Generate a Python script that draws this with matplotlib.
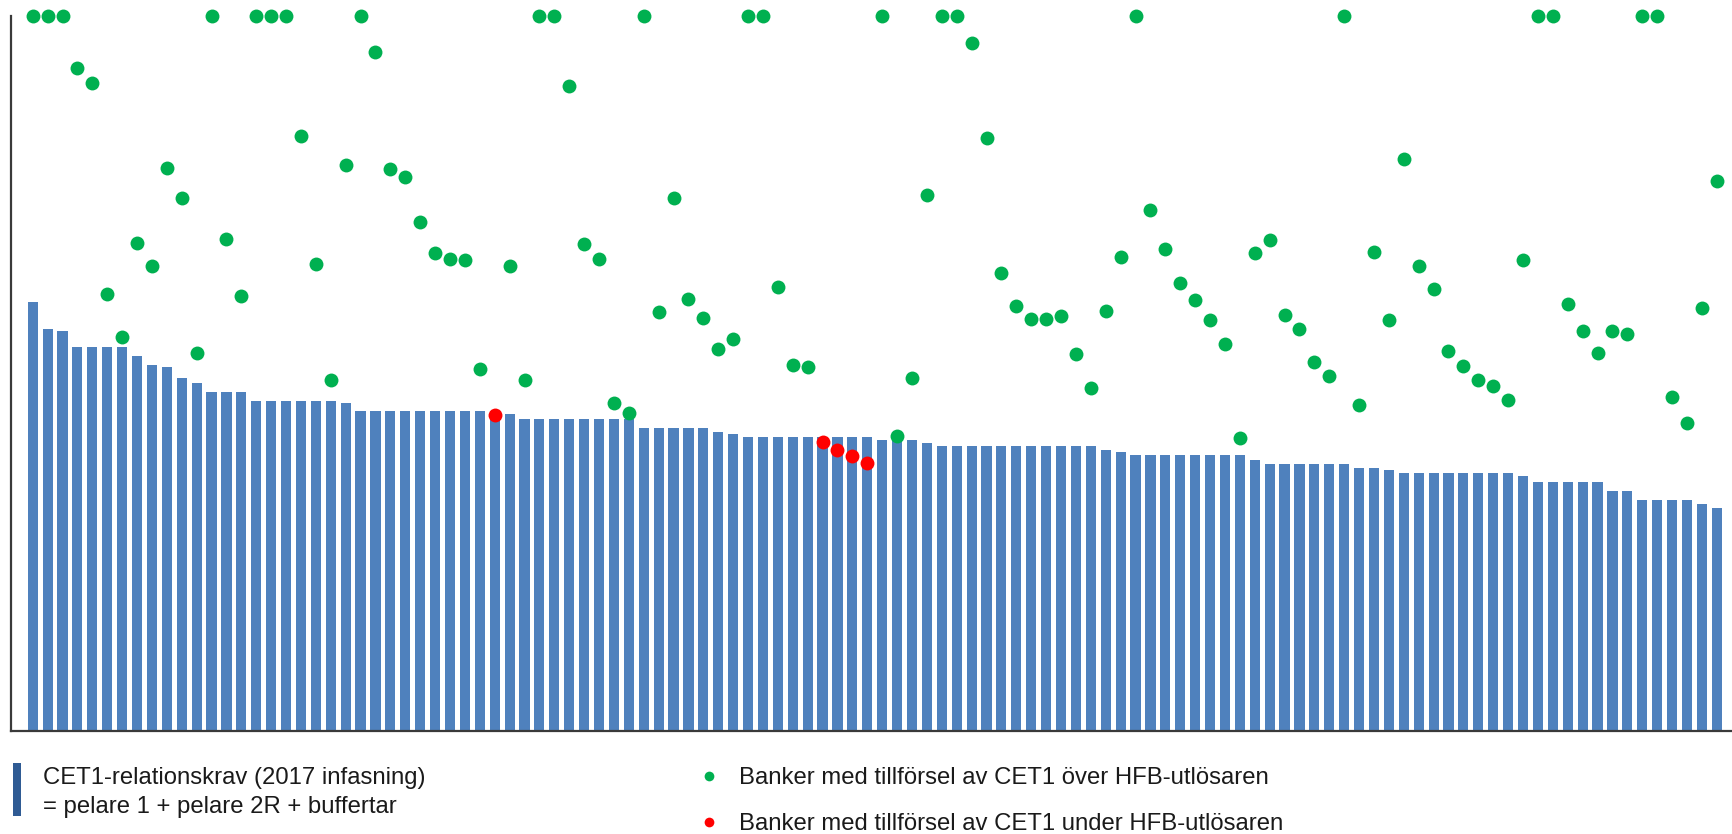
import matplotlib
matplotlib.use("Agg")
import matplotlib.pyplot as plt
from matplotlib.lines import Line2D
from matplotlib.patches import Rectangle

plt.rcParams['font.family'] = ['Liberation Sans', 'DejaVu Sans']

# CET1 requirement per bank (%), sorted descending
cet1_requirement = [
    15.0, 14.05, 13.97, 13.41, 13.41, 13.41, 13.41, 13.11, 12.78, 12.71,
    12.35, 12.17, 11.86, 11.86, 11.86, 11.54, 11.54, 11.54, 11.54, 11.54,
    11.54, 11.47, 11.20, 11.20, 11.20, 11.20, 11.20, 11.20, 11.20, 11.20,
    11.20, 11.20, 11.10, 10.90, 10.90, 10.90, 10.90, 10.90, 10.90, 10.90,
    10.90, 10.60, 10.60, 10.60, 10.60, 10.60, 10.47, 10.40, 10.27, 10.27,
    10.27, 10.27, 10.27, 10.27, 10.27, 10.27, 10.27, 10.18, 10.18, 10.18,
    10.08, 9.97, 9.97, 9.97, 9.97, 9.97, 9.97, 9.97, 9.97, 9.97,
    9.97, 9.97, 9.83, 9.74, 9.64, 9.64, 9.64, 9.64, 9.64, 9.64,
    9.64, 9.64, 9.49, 9.33, 9.33, 9.33, 9.33, 9.33, 9.33, 9.21,
    9.18, 9.13, 9.03, 9.03, 9.03, 9.03, 9.03, 9.03, 9.03, 9.03,
    8.92, 8.72, 8.72, 8.72, 8.72, 8.72, 8.39, 8.39, 8.09, 8.09,
    8.09, 8.09, 7.93, 7.79,
]

# CET1 after capital injection (%); 25.0 = capped at the axis maximum
cet1_after_injection = [
    25.0, 25.0, 25.0, 23.17, 22.67, 15.27, 13.79, 17.06, 16.25, 19.70,
    18.63, 13.21, 25.0, 17.19, 15.21, 25.0, 25.0, 25.0, 20.82, 16.33,
    12.28, 19.80, 25.0, 23.75, 19.65, 19.38, 17.80, 16.71, 16.49, 16.46,
    12.67, 11.06, 16.27, 12.27, 25.0, 25.0, 22.54, 17.02, 16.51, 11.46,
    11.13, 25.0, 14.65, 18.63, 15.11, 14.43, 13.37, 13.69, 25.0, 25.0,
    15.54, 12.81, 12.73, 10.10, 9.83, 9.62, 9.36, 25.0, 10.31, 12.33,
    18.73, 25.0, 25.0, 24.06, 20.72, 16.03, 14.86, 14.40, 14.40, 14.50,
    13.18, 11.99, 14.68, 16.58, 25.0, 18.20, 16.84, 15.67, 15.08, 14.37,
    13.52, 10.24, 16.73, 17.16, 14.55, 14.07, 12.91, 12.42, 25.0, 11.39,
    16.76, 14.37, 20.01, 16.27, 15.47, 13.29, 12.75, 12.28, 12.05, 11.59,
    16.48, 25.0, 25.0, 14.93, 13.99, 13.23, 13.99, 13.87, 25.0, 25.0,
    11.69, 10.77, 14.78, 19.24,
]

# banks whose injected CET1 stays below the HFB trigger
below_trigger = [31, 53, 54, 55, 56]

legend_bar_lines = ["CET1-relationskrav (2017 infasning)",
                    "= pelare 1 + pelare 2R + buffertar"]
legend_green_label = "Banker med tillförsel av CET1 över HFB-utlösaren"
legend_red_label = "Banker med tillförsel av CET1 under HFB-utlösaren"

BAR_COLOR = "#4F81BD"
GREEN = "#00B050"
RED = "#FF0000"
LEGEND_BLUE = "#2F5B94"
TEXT_COLOR = "#1a1a1a"
FS = 17.2

W, H = 1733, 834
fig = plt.figure(figsize=(W / 100, H / 100), dpi=100)
ax = fig.add_axes([10.7 / W, 103.0 / H, 1 - 10.7 / W, (731.0 - 16.0) / H])

n = len(cet1_requirement)
x = list(range(n))
ax.bar(x, cet1_requirement, width=0.68, color=BAR_COLOR, zorder=1)

gx = [i for i in x if i not in below_trigger]
gy = [cet1_after_injection[i] for i in gx]
rx = [i for i in x if i in below_trigger]
ry = [cet1_after_injection[i] for i in rx]
ax.scatter(gx, gy, s=100, color=GREEN, zorder=3, clip_on=False, linewidths=0)
ax.scatter(rx, ry, s=100, color=RED, zorder=3, clip_on=False, linewidths=0)

ax.set_xlim(-1.476, 114.09)
ax.set_ylim(0, 25)
ax.set_xticks([])
ax.set_yticks([])
for s in ("top", "right"):
    ax.spines[s].set_visible(False)
for s in ("left", "bottom"):
    ax.spines[s].set_color("#3a3a3a")
    ax.spines[s].set_linewidth(1.6)

# Legend (drawn manually in figure coordinates; y measured from top in pixels)
def fy(py):
    return (H - py) / H

fig.add_artist(Rectangle((13.3 / W, fy(815.7)), 7.4 / W, 52.4 / H,
                         transform=fig.transFigure, color=LEGEND_BLUE, lw=0))
fig.text(42.7 / W, fy(784.3), legend_bar_lines[0], fontsize=FS, color=TEXT_COLOR,
         va="baseline", ha="left")
fig.text(42.7 / W, fy(813.3), legend_bar_lines[1], fontsize=FS, color=TEXT_COLOR,
         va="baseline", ha="left")
fig.add_artist(Line2D([709.3 / W], [fy(775.5)], marker="o", markersize=7,
                      markeredgewidth=0, color=GREEN, transform=fig.transFigure,
                      linestyle="none"))
fig.add_artist(Line2D([709.3 / W], [fy(821.5)], marker="o", markersize=7,
                      markeredgewidth=0, color=RED, transform=fig.transFigure,
                      linestyle="none"))
fig.text(739.3 / W, fy(784.3), legend_green_label, fontsize=FS, color=TEXT_COLOR,
         va="baseline", ha="left")
fig.text(739.3 / W, fy(830.5), legend_red_label, fontsize=FS, color=TEXT_COLOR,
         va="baseline", ha="left")

fig.savefig("out.png", dpi=100)
